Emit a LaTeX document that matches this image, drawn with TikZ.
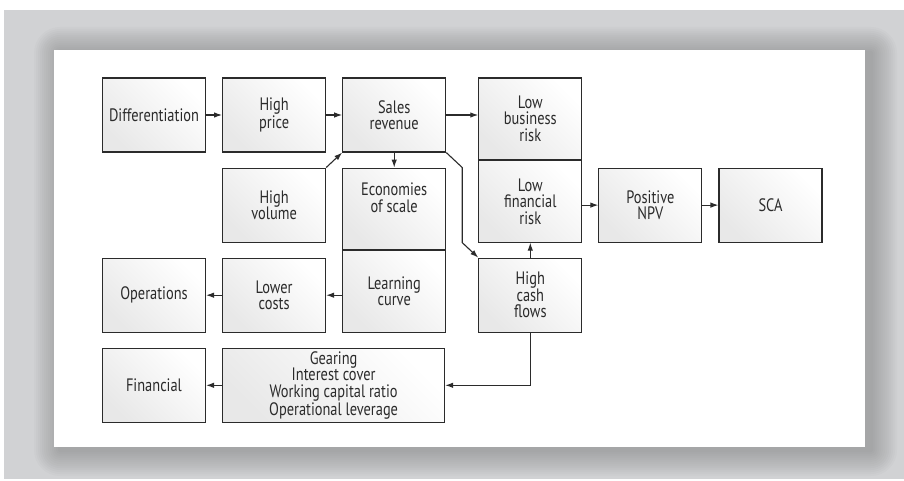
\documentclass[tikz,border=0pt]{standalone}
\usepackage{fontspec}
\setmainfont{PT Sans}[FakeStretch = 0.8]
\usetikzlibrary{arrows.meta, positioning, calc}
\definecolor{pagegrey}{HTML}{D1D2D4}
\definecolor{linegrey}{HTML}{2B2B2B}
\tikzset{> = { Latex[length = 8pt, width = 5.5pt] }}

\begin{document}
\begin{tikzpicture}[x = 1pt, y = -1pt, font = \fontsize{18}{16.5}\selectfont, text = linegrey,
	box/.style = { draw = linegrey, line width = 1.1pt, align = center, minimum width = 103pt, minimum height = 74pt, inner sep = 1pt, left color = white, right color = black!9, shading angle = -45 },
	tallbox/.style = { box, minimum height = 81.5pt },
	link/.style = { ->, draw = linegrey, line width = 1.1pt }]
	% page and panel
	\useasboundingbox (0,0) rectangle (904,481);
	\fill[pagegrey] (4,10) rectangle (904,479);
	\foreach \r in {2,4,...,26}
		\fill[black, opacity = 0.017, rounded corners = \r pt] (60-\r,53-\r) rectangle (871+\r,450+\r);
	\fill[white] (54,50) rectangle (865,447);

	\node [box] (diff) at (154,115) {Differentiation};
	\node [box, right = 16pt of diff] (hprice) {High\\price};
	\node [box, right = 16pt of hprice] (sales) {Sales\\revenue};
	\node [box, below = 15pt of hprice] (hvol) {High\\volume};
	\node [tallbox, below = 15pt of sales] (econ) {Economies\\of scale\\[6pt]};
	\node [tallbox, below = 0pt of econ] (learn) {Learning\\curve};
	\node [box, left = 16pt of learn.south west, anchor = south east] (lower) {Lower\\costs};
	\node [box, left = 16pt of lower] (ops) {Operations};
	\node [box, below = 15pt of ops] (fin) {Financial};
	\node [box, right = 16pt of fin, minimum width = 222pt] (gear) {Gearing\\Interest cover\\Working capital ratio\\Operational leverage};

	\node [tallbox, right = 32pt of sales.north east, anchor = north west] (lbr) {Low\\business\\risk};
	\node [tallbox, below = 0pt of lbr] (lfr) {Low\\financial\\risk};
	\node [box, below = 15pt of lfr] (hcf) {High\\cash\\flows};
	\node [box, right = 16pt of lfr.south east, anchor = south west] (npv) {Positive\\NPV};
	\node [box, right = 16pt of npv] (sca) {SCA};

	\draw [link] (diff) -- (hprice);
	\draw [link] (hprice) -- (sales);
	\draw [link] (sales.east) -- (sales.east -| lbr.west);
	\draw [link] (sales) -- (econ);
	\draw [link] (hvol.north east) -- (sales.south west);
	\draw [link] (sales.south east) -- ++(16,15) coordinate (bend) -- (bend |- lfr.south) -- (hcf.north west);
	\draw [link] (hcf) -- (lfr);
	\draw [link] (npv.west |- npv.center) ++(-16,0) -- (npv.west);
	\draw [link] (npv) -- (sca);
	\draw [link] (learn.west |- lower.center) -- (lower.east);
	\draw [link] (lower) -- (ops);
	\draw [link] (hcf.south) |- (gear.east);
	\draw [link] (gear) -- (fin);
\end{tikzpicture}
\end{document}
